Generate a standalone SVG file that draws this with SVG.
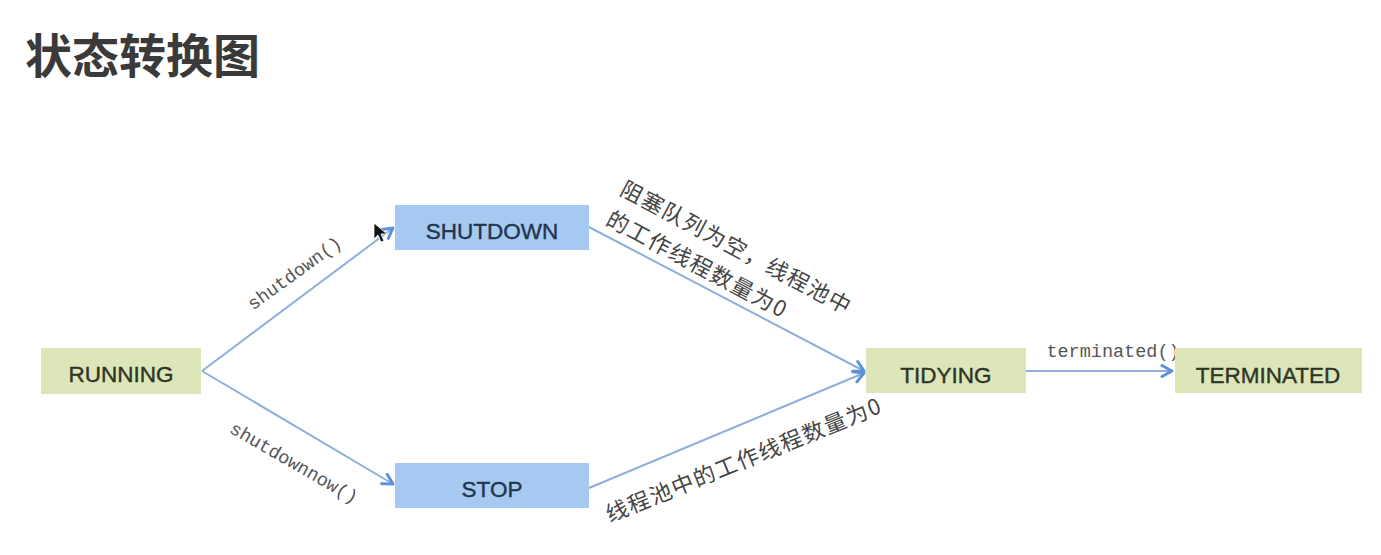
<svg xmlns="http://www.w3.org/2000/svg" width="1381" height="555" viewBox="0 0 1381 555">
  <style>
    .green { fill: #dde6b9; }
    .blue { fill: #a6c9f1; }
    .lbl { font-family: "Liberation Sans", Arial, sans-serif; font-size: 22.5px; text-anchor: middle; stroke-width: 0.4px; }
    .lg { fill: #2e3528; stroke: #2e3528; }
    .lb { fill: #23354d; stroke: #23354d; }
    .edge { stroke: #8eaedb; stroke-width: 2; fill: none; }
    .mono { font-family: "Liberation Mono", "Courier New", monospace; font-size: 18.5px; fill: #555; }
    .cjk { font-family: "Noto Sans CJK SC", sans-serif; font-size: 22px; fill: #444; letter-spacing: 1.5px; }
  </style>
  <defs>
    <marker id="arr" viewBox="0 0 14 14" refX="12" refY="7" markerWidth="14" markerHeight="14" markerUnits="userSpaceOnUse" orient="auto">
      <path d="M2,1.5 L12,7 L2,12.5" fill="none" stroke="#5d91d8" stroke-width="3" stroke-linejoin="round" stroke-linecap="round"/>
    </marker>
  </defs>
  <rect width="1381" height="555" fill="#ffffff"/>

  <text x="25" y="73" font-family="Noto Sans CJK SC, sans-serif" font-size="47" font-weight="bold" fill="#3a3a3a">状态转换图</text>

  <g id="connectors">
    <line class="edge" x1="202" y1="371" x2="393" y2="228" marker-end="url(#arr)"/>
    <line class="edge" x1="202" y1="371" x2="393" y2="484" marker-end="url(#arr)"/>
    <line class="edge" x1="589" y1="227" x2="864" y2="371" marker-end="url(#arr)"/>
    <line class="edge" x1="589" y1="488" x2="864" y2="373" marker-end="url(#arr)"/>
    <line class="edge" x1="1026" y1="371" x2="1172" y2="371" marker-end="url(#arr)"/>
    <text class="mono" text-anchor="middle" transform="translate(298,278) rotate(-36)">shutdown()</text>
    <text class="mono" text-anchor="middle" transform="translate(291,468) rotate(30)">shutdownnow()</text>
    <text class="mono" text-anchor="middle" x="1113" y="357">terminated()</text>
    <text class="cjk" transform="translate(618.5,194) rotate(28)">阻塞队列为空，线程池中</text>
    <text class="cjk" transform="translate(604.5,224) rotate(28)">的工作线程数量为0</text>
    <text class="cjk" transform="translate(609.8,522.5) rotate(-22)">线程池中的工作线程数量为0</text>
  </g>

  <g id="running">
    <rect class="green" x="41" y="348" width="160" height="46"/>
    <text class="lbl lg" x="121" y="382">RUNNING</text>
  </g>
  <g id="shutdown">
    <rect class="blue" x="395" y="205" width="194" height="45"/>
    <text class="lbl lb" x="492" y="239">SHUTDOWN</text>
  </g>
  <g id="stop">
    <rect class="blue" x="395" y="463" width="194" height="45"/>
    <text class="lbl lb" x="492" y="497">STOP</text>
  </g>
  <g id="tidying">
    <rect class="green" x="866" y="348" width="160" height="45"/>
    <text class="lbl lg" x="946" y="383">TIDYING</text>
  </g>
  <g id="terminated">
    <rect class="green" x="1175" y="348" width="187" height="45"/>
    <text class="lbl lg" x="1268" y="383">TERMINATED</text>
  </g>

  <path d="M374,223 L374,239 L378,235 L381,242 L384,241 L381,234 L387,234 Z" fill="#111" stroke="#fff" stroke-width="0.8"/>
</svg>
